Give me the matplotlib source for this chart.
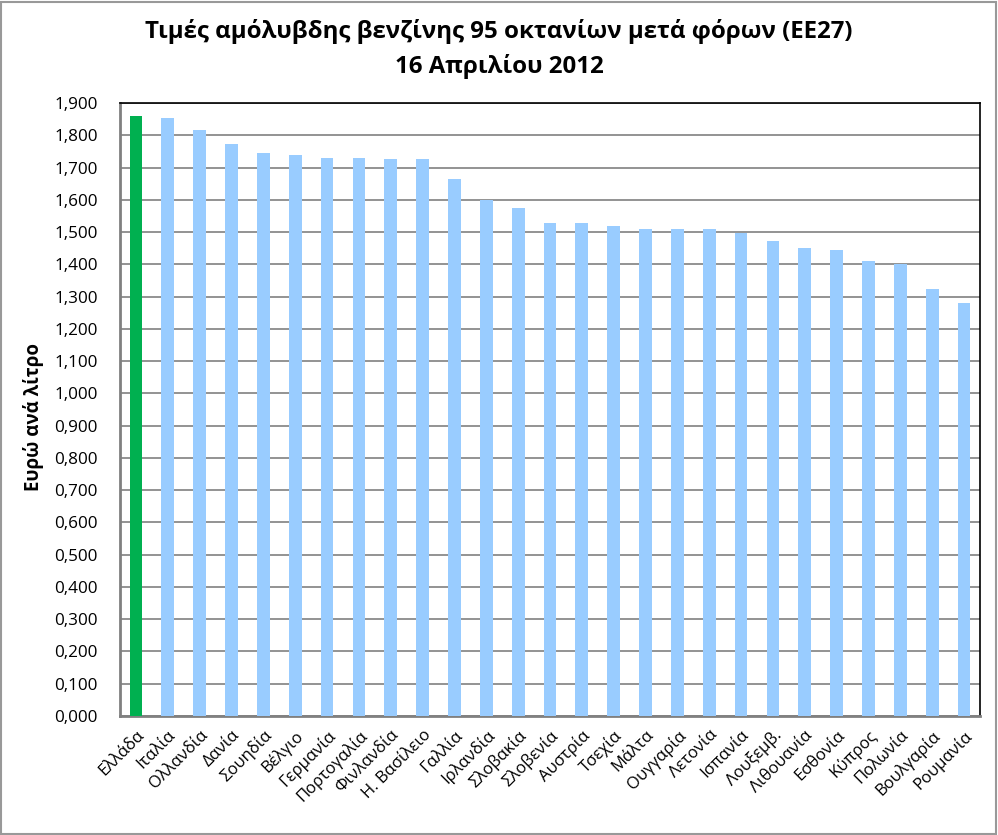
import matplotlib
matplotlib.use("Agg")
import matplotlib.pyplot as plt
from matplotlib.ticker import FuncFormatter, MultipleLocator
from matplotlib.patches import Rectangle

plt.rcParams['font.family'] = ['Open Sans', 'DejaVu Sans']

countries = ["Ελλάδα", "Ιταλία", "Ολλανδία", "Δανία", "Σουηδία", "Βέλγιο", "Γερμανία",
             "Πορτογαλία", "Φινλανδία", "Η. Βασίλειο", "Γαλλία", "Ιρλανδία", "Σλοβακία",
             "Σλοβενία", "Αυστρία", "Τσεχία", "Μάλτα", "Ουγγαρία", "Λετονία", "Ισπανία",
             "Λουξεμβ.", "Λιθουανία", "Εσθονία", "Κύπρος", "Πολωνία", "Βουλγαρία", "Ρουμανία"]
prices = [1.860, 1.853, 1.816, 1.773, 1.745, 1.739, 1.730, 1.730, 1.727, 1.727, 1.665,
          1.600, 1.575, 1.527, 1.527, 1.518, 1.508, 1.508, 1.508, 1.497, 1.471, 1.452,
          1.443, 1.410, 1.400, 1.325, 1.281]
highlight = "Ελλάδα"

title = "Τιμές αμόλυβδης βενζίνης 95 οκτανίων μετά φόρων (ΕΕ27)\n16 Απριλίου 2012"
ylabel = "Ευρώ ανά λίτρο"

fig = plt.figure(figsize=(9.98, 8.35), dpi=100)
ax = fig.add_axes([120/998, 1-716/835, 860/998, 613/835])

colors = ["#00B050" if c == highlight else "#99CCFF" for c in countries]
x = list(range(len(countries)))
ax.bar(x, prices, width=0.4, color=colors, zorder=3)

ax.set_xlim(-0.5, len(countries) - 0.5)
ax.set_ylim(0, 1.9)
ax.yaxis.set_major_locator(MultipleLocator(0.1))
ax.yaxis.set_major_formatter(FuncFormatter(lambda v, p: f"{v:.3f}".replace(".", ",")))
ax.grid(axis="y", color="#808080", linewidth=1.2, zorder=1)
ax.set_axisbelow(True)

ax.set_xticks(x)
ax.set_xticklabels(countries, rotation=45, ha="right", va="top", rotation_mode="anchor", fontsize=12)
ax.tick_params(axis="x", length=0, pad=8)
ax.tick_params(axis="y", labelsize=12.3, length=0, pad=16)

for s in ["top", "right"]:
    ax.spines[s].set_color("black")
    ax.spines[s].set_linewidth(1.2)
for s in ["left", "bottom"]:
    ax.spines[s].set_color("#808080")
    ax.spines[s].set_linewidth(2)

fig.text(34/998, 1-417/835, ylabel, rotation=90, ha="center", va="center",
         fontsize=13.5, fontweight="bold")
fig.text(0.5, 1-49/835, title, ha="center", va="center", fontsize=17.3,
         fontweight="bold", linespacing=1.5)

fig.patches.append(Rectangle((0.001, 0.001), 0.997, 0.997, transform=fig.transFigure,
                             fill=False, edgecolor="#999999", linewidth=1.5))

fig.savefig("out.png", dpi=100)
